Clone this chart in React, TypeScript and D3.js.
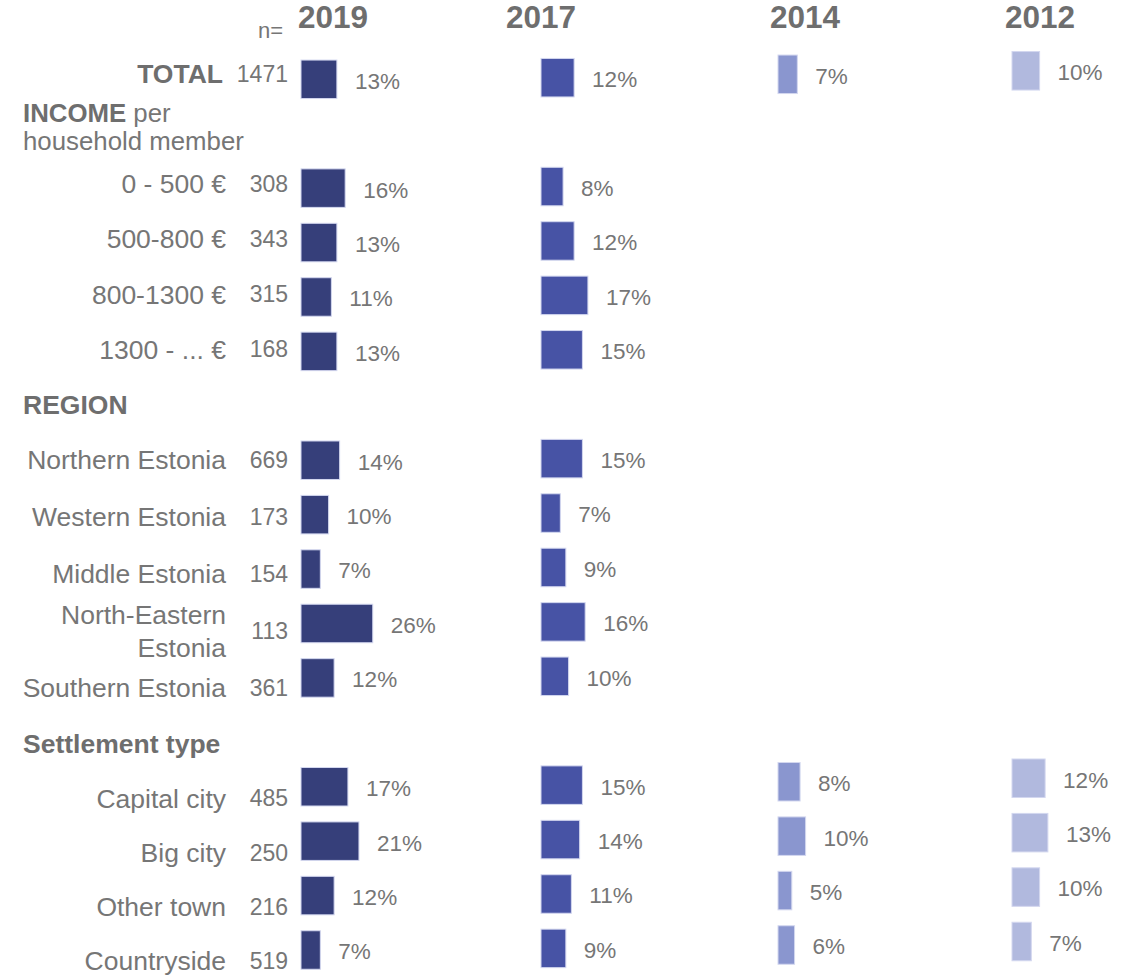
import React from "react";
import * as d3 from "d3";

// ---- data ----
type RowKind = "total" | "header" | "item";
const rowLabels: string[] = [
  "TOTAL",
  "INCOME",
  "0 - 500 €",
  "500-800 €",
  "800-1300 €",
  "1300 - ... €",
  "REGION",
  "Northern Estonia",
  "Western Estonia",
  "Middle Estonia",
  "North-Eastern Estonia",
  "Southern Estonia",
  "Settlement type",
  "Capital city",
  "Big city",
  "Other town",
  "Countryside",
];
const rowKinds: RowKind[] = [
  "total", "header", "item", "item", "item", "item",
  "header", "item", "item", "item", "item", "item",
  "header", "item", "item", "item", "item",
];
const nValues: (number | null)[] = [1471, null, 308, 343, 315, 168, null, 669, 173, 154, 113, 361, null, 485, 250, 216, 519];
const years = ["2019", "2017", "2014", "2012"];
const v2019: (number | null)[] = [13, null, 16, 13, 11, 13, null, 14, 10, 7, 26, 12, null, 17, 21, 12, 7];
const v2017: (number | null)[] = [12, null, 8, 12, 17, 15, null, 15, 7, 9, 16, 10, null, 15, 14, 11, 9];
const v2014: (number | null)[] = [7, null, null, null, null, null, null, null, null, null, null, null, null, 8, 10, 5, 6];
const v2012: (number | null)[] = [10, null, null, null, null, null, null, null, null, null, null, null, null, 12, 13, 10, 7];
const seriesValues = [v2019, v2017, v2014, v2012];

// ---- layout / style ----
const W = 1131;
const H = 978;
const colors = ["#363f7a", "#4753a5", "#8a96cf", "#b1b9de"];
const colStart = [301, 541, 778, 1012];
const colYShift = [0, -1.6, -5, -8.5];
const headerX = [298, 506, 770, 1005];
const textGray = "#767676";
const boldGray = "#6e6e6e";
const FONT = "'Liberation Sans', Arial, Helvetica, sans-serif";
const barH = 38.5;
const LABEL_FS = 26.5;

export default function App() {
  const idx = rowLabels.map((_, i) => String(i));
  const yBar = d3.scalePoint<string>().domain(idx).range([79.3, 950]);
  const yLab = d3.scaleLinear().domain([0, 7, 11, 12, 16]).range([74, 459.5, 688, 744, 961]);
  const x = d3.scaleLinear().domain([0, 10]).range([0, 27.6]);

  return (
    <svg
      width={W}
      height={H}
      style={{ position: "absolute", left: 0, top: 0, background: "#fff" }}
      fontFamily={FONT}
    >
      {/* year headers */}
      {years.map((yr, j) => (
        <text key={yr} x={headerX[j]} y={27.5} fontSize={31.5} fontWeight="bold" fill={boldGray}>
          {yr}
        </text>
      ))}
      <text x={283} y={38} fontSize={22} fill={textGray} textAnchor="end">n=</text>

      {/* left labels */}
      {rowLabels.map((lab, i) => {
        const k = rowKinds[i];
        const y = yLab(i);
        if (k === "header") {
          if (lab === "INCOME") {
            return (
              <g key={i}>
                <text x={23} y={121.5} fontSize={25.8} fill={textGray}>
                  <tspan fontWeight="bold" fill={boldGray}>INCOME</tspan>
                  <tspan> per</tspan>
                </text>
                <text x={23} y={150} fontSize={25.8} fill={textGray}>household member</text>
              </g>
            );
          }
          return (
            <text key={i} x={23} y={y} dy="0.35em" fontSize={LABEL_FS} fontWeight="bold" fill={boldGray}>
              {lab}
            </text>
          );
        }
        const parts = lab === "North-Eastern Estonia" ? ["North-Eastern", "Estonia"] : [lab];
        return (
          <g key={i}>
            {parts.length === 1 ? (
              <text
                x={k === "total" ? 223 : 226}
                y={y}
                dy="0.35em"
                fontSize={LABEL_FS}
                fontWeight={k === "total" ? "bold" : "normal"}
                fill={k === "total" ? boldGray : textGray}
                textAnchor="end"
              >
                {lab}
              </text>
            ) : (
              <text fontSize={LABEL_FS} fill={textGray} textAnchor="end">
                {parts.map((p, pi) => (
                  <tspan key={pi} x={226} y={y - 16 + pi * 32.5} dy="0.35em">
                    {p}
                  </tspan>
                ))}
              </text>
            )}
            {nValues[i] != null && (
              <text x={288} y={y} dy="0.35em" fontSize={23} fill={textGray} textAnchor="end">
                {nValues[i]}
              </text>
            )}
          </g>
        );
      })}

      {/* bars */}
      {seriesValues.map((vals, j) => (
        <g key={years[j]}>
          {vals.map((v, i) => {
            if (v == null) return null;
            const cy = yBar(String(i))! + colYShift[j];
            const w = x(v);
            return (
              <g key={i}>
                <rect
                  x={colStart[j]}
                  y={cy - barH / 2}
                  width={w}
                  height={barH}
                  fill={colors[j]}
                  stroke="#d3d7ef"
                  strokeWidth={1}
                />
                <text
                  x={colStart[j] + w + 18}
                  y={cy + 1.5}
                  dy="0.35em"
                  fontSize={22.5}
                  fill={textGray}
                >
                  {`${v}%`}
                </text>
              </g>
            );
          })}
        </g>
      ))}
    </svg>
  );
}
